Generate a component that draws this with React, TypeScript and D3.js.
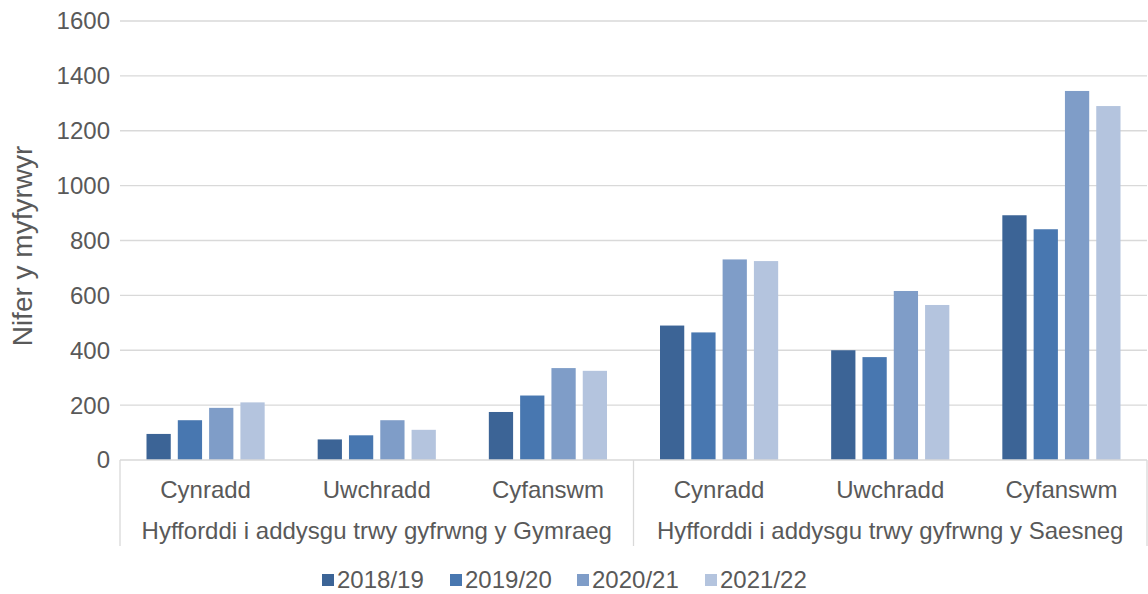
import * as React from 'react';
import { useEffect, useRef } from 'react';
import * as d3 from 'd3';

const groups = ['Hyfforddi i addysgu trwy gyfrwng y Gymraeg', 'Hyfforddi i addysgu trwy gyfrwng y Saesneg'];
const phases = ['Cynradd', 'Uwchradd', 'Cyfanswm'];
const years = ['2018/19', '2019/20', '2020/21', '2021/22'];
const colors = ['#3c6496', '#4877b0', '#7f9dc8', '#b4c4de'];

// one array per year, six categories (3 phases x 2 groups)
const v2018 = [95, 75, 175, 490, 400, 892];
const v2019 = [145, 90, 235, 465, 375, 841];
const v2020 = [190, 145, 335, 731, 616, 1345];
const v2021 = [210, 110, 325, 725, 565, 1290];
const yTicks = [0, 200, 400, 600, 800, 1000, 1200, 1400, 1600];

const W = 1148, H = 594;
const left = 120, right = 1147, top = 21, bottom = 460;
const font = '"Liberation Sans", Arial, sans-serif';
const txt = '#595959';
const fs = 24;

const App: React.FC = () => {
    const svgRef = useRef<SVGSVGElement | null>(null);

    useEffect(() => {
        if (!svgRef.current) return;
        const svg = d3.select(svgRef.current);
        svg.selectAll('*').remove();

        const series = [v2018, v2019, v2020, v2021];
        const cats = groups.flatMap((g, gi) => phases.map(p => `${gi}|${p}`));

        const y = d3.scaleLinear().domain([0, 1600]).range([bottom, top]);
        const x = d3.scaleBand().domain(cats).range([left, right]).paddingInner(0).paddingOuter(0);
        const inner = d3.scaleBand().domain(years).range([26.5, x.bandwidth() - 26.5]).paddingInner(0.225).paddingOuter(0);

        // gridlines
        svg.append('g').selectAll('line').data(yTicks.filter(t => t > 0)).join('line')
            .attr('x1', left).attr('x2', right)
            .attr('y1', d => y(d)).attr('y2', d => y(d))
            .attr('stroke', '#d9d9d9').attr('stroke-width', 1.3);

        // y tick labels
        svg.append('g').selectAll('text').data(yTicks).join('text')
            .attr('x', 110).attr('y', d => y(d)).attr('dy', '0.35em')
            .attr('text-anchor', 'end')
            .attr('font-family', font).attr('font-size', fs).attr('fill', txt)
            .text(d => d);

        // bars
        series.forEach((vals, si) => {
            svg.append('g').selectAll('rect').data(vals).join('rect')
                .attr('x', (d, i) => (x(cats[i]) as number) + (inner(years[si]) as number))
                .attr('width', inner.bandwidth())
                .attr('y', d => y(d))
                .attr('height', d => bottom - y(d))
                .attr('fill', colors[si]);
        });

        // category axis
        svg.append('line').attr('x1', left).attr('x2', right).attr('y1', bottom).attr('y2', bottom)
            .attr('stroke', '#d9d9d9').attr('stroke-width', 1.3);
        const seps = [left, (x(cats[3]) as number), right];
        svg.append('g').selectAll('line').data(seps).join('line')
            .attr('x1', d => d).attr('x2', d => d).attr('y1', bottom).attr('y2', 546)
            .attr('stroke', '#d9d9d9').attr('stroke-width', 1.3);

        svg.append('g').selectAll('text').data(cats).join('text')
            .attr('x', d => (x(d) as number) + x.bandwidth() / 2).attr('y', 498)
            .attr('text-anchor', 'middle')
            .attr('font-family', font).attr('font-size', fs).attr('fill', txt)
            .text(d => d.split('|')[1]);

        svg.append('g').selectAll('text').data(groups).join('text')
            .attr('x', (d, gi) => (x(cats[gi * 3]) as number) + x.bandwidth() * 1.5).attr('y', 539)
            .attr('text-anchor', 'middle')
            .attr('font-family', font).attr('font-size', fs).attr('fill', txt)
            .text(d => d);

        // y axis title
        svg.append('text')
            .attr('transform', 'translate(32,246) rotate(-90)')
            .attr('text-anchor', 'middle')
            .attr('font-family', font).attr('font-size', 28).attr('fill', txt)
            .text('Nifer y myfyrwyr');

        // legend
        const legX = [322, 450, 577, 705];
        const leg = svg.append('g').selectAll('g').data(years).join('g')
            .attr('transform', (d, i) => `translate(${legX[i]},580)`);
        leg.append('rect').attr('x', 0).attr('y', -6).attr('width', 12).attr('height', 12)
            .attr('fill', (d, i) => colors[i]);
        leg.append('text').attr('x', 15).attr('y', 0).attr('dy', '0.35em')
            .attr('font-family', font).attr('font-size', fs).attr('fill', txt)
            .text(d => d);
    }, []);

    return (
        <svg ref={svgRef} width={W} height={H} style={{ position: 'absolute', left: 0, top: 0, background: '#fff' }} />
    );
};

export default App;
